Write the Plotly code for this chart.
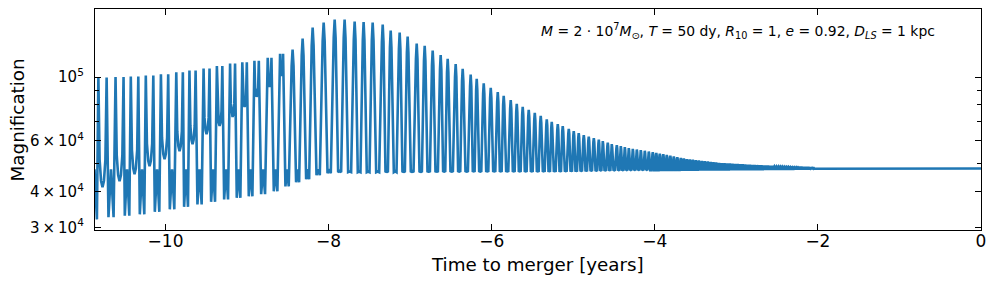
import numpy as np
import plotly.graph_objects as go

# ---------------- data ----------------
# centre of every orbital cycle (years before merger)
cycle_t = [
    -10.969, -10.773, -10.564, -10.380, -10.196, -10.012, -9.828, -9.669, -9.497, -9.337,
    -9.178, -9.031, -8.883, -8.724, -8.577, -8.442, -8.319, -8.196, -8.061, -7.926,
    -7.804, -7.681, -7.571, -7.460, -7.337, -7.239, -7.129, -7.031, -6.920, -6.822,
    -6.724, -6.626, -6.540, -6.442, -6.356, -6.258, -6.184, -6.098, -6.012, -5.926,
    -5.853, -5.767, -5.693, -5.620, -5.546, -5.472, -5.399, -5.325, -5.264, -5.190,
    -5.129, -5.055, -4.994, -4.933, -4.871, -4.810, -4.748, -4.687, -4.638, -4.577,
    -4.528, -4.466, -4.417, -4.368, -4.319, -4.270, -4.221, -4.172, -4.123, -4.074,
    -4.025, -3.982, -3.939, -3.896, -3.853, -3.810, -3.767, -3.724, -3.681, -3.644,
    -3.607, -3.571, -3.534, -3.497, -3.460, -3.423, -3.387, -3.350, -3.315, -3.281,
    -3.247, -3.212, -3.178, -3.145, -3.112, -3.080, -3.048, -3.016, -2.984, -2.953,
    -2.923, -2.892, -2.863, -2.833, -2.804, -2.775, -2.747, -2.719, -2.692, -2.665,
    -2.638, -2.611, -2.584, -2.558, -2.533, -2.507, -2.481, -2.456, -2.432, -2.407,
    -2.383, -2.360, -2.336, -2.313, -2.290, -2.266, -2.244, -2.222, -2.200, -2.178,
    -2.156, -2.135, -2.114, -2.093, -2.072, -2.052, -2.031, -2.010, -1.990, -1.971,
    -1.951,
]

# upper envelope (peak magnification)
peak_t = [-10.847, -10.442, -10.074, -9.865, -9.521, -9.190, -8.883, -8.724, -8.577, -8.442,
          -8.319, -8.196, -8.061, -7.926, -7.804, -7.681, -7.460, -7.337, -7.239, -7.129,
          -7.031, -6.920, -6.822, -6.724, -6.540, -6.356, -6.184, -6.012, -5.853, -5.693,
          -5.546, -5.399, -5.264, -5.129, -4.994, -4.871, -4.748, -4.638, -4.528, -4.417,
          -4.319, -4.025, -3.607, -3.202, -2.798, -2.380, -1.975]
peak_m = [99440, 100230, 101850, 103510, 106900, 111300, 114000, 116800, 120600, 124600,
          136100, 148700, 154800, 158600, 158600, 156100, 154800, 152300, 145100, 142800,
          138300, 130700, 128600, 123600, 115800, 106900, 98650, 91750, 86060, 80680,
          76890, 73270, 69820, 67600, 64930, 62870, 61370, 59910, 58480, 57540,
          56630, 54830, 51840, 50200, 49390, 48720, 48220]

# local minimum between the two peaks of a cycle (U-shaped dip / notch)
notch_t = [-10.773, -10.564, -10.380, -10.196, -10.012, -9.828, -9.669, -9.497, -9.337,
           -9.178, -9.031, -8.883, -8.724, -8.577, -8.442]
notch_m = [41390, 43430, 45940, 48990, 51840, 55280, 58480, 63390, 67600,
           72680, 78760, 85370, 92510, 101040, 124600]

# deep minima between cycles
trough_t = [-10.847, -10.687, -10.294, -9.926, -9.583, -9.252, -8.957, -8.810, -8.650, -8.503,
            -8.380, -8.258, -8.135, -7.988, -7.865, -5.166, -4.429, -3.448, -2.221, -1.730]
trough_m = [32000, 32520, 33310, 34670, 36100, 37580, 38500, 39130, 40090, 41730,
            43090, 44140, 45580, 46320, 46700, 46800, 47300, 47700, 48000, 48100]

# small bump between the two deep minima
bump_t = [-10.9, -7.988, -7.804, -1.730]
bump_m = [47800, 47800, 46900, 48100]

# separation of the two peaks of a cycle (fraction of the cycle)
sep_t = [-10.773, -10.196, -9.583, -9.190, -8.883, -8.724, -8.577, -8.503, -8.442]
sep_f = [0.50, 0.50, 0.45, 0.40, 0.35, 0.30, 0.26, 0.18, 0.0]

# flat tail up to merger
tail_t = [-1.90, -1.00, 0.0]
tail_m = [48100, 48100, 48100]

x_ticks = [-10, -8, -6, -4, -2, 0]
x_ticktext = ["\u221210", "\u22128", "\u22126", "\u22124", "\u22122", "0"]
y_ticks = [3e4, 4e4, 6e4, 1e5]
y_ticktext = ["3\u2009\u00d7\u200910<sup>4</sup>", "4\u2009\u00d7\u200910<sup>4</sup>",
              "6\u2009\u00d7\u200910<sup>4</sup>", "10<sup>5</sup>"]
y_minor = [5e4, 7e4, 8e4, 9e4]


# ---------------- build the light curve cycle by cycle ----------------
def logi(t, kt, km):
    return 10 ** np.interp(t, kt, np.log10(km))


c = np.array(cycle_t)
P = np.gradient(c)
pk = logi(c, peak_t, peak_m)
nt = logi(c, notch_t, notch_m)
sp = np.interp(c, sep_t, sep_f)

xs, ys = [], []
for k in range(len(c)):
    ck, Pk = c[k], P[k]
    h = sp[k] * Pk / 2
    if h > 1e-6:
        lp, ln = np.log10(pk[k]), np.log10(nt[k])
        pts = [(ck - h, lp), (ck - 0.7 * h, ln + 0.25 * (lp - ln)), (ck - 0.35 * h, ln + 0.06 * (lp - ln)),
               (ck, ln), (ck + 0.35 * h, ln + 0.06 * (lp - ln)), (ck + 0.7 * h, ln + 0.25 * (lp - ln)),
               (ck + h, lp)]
    else:
        lp = np.log10(pk[k])
        lt = np.log10(logi(ck, trough_t, trough_m))
        pts = [(ck - 0.09 * Pk, lt + 0.88 * (lp - lt)), (ck, lp), (ck + 0.09 * Pk, lt + 0.88 * (lp - lt))]
    for px, pl in pts:
        xs.append(px)
        ys.append(10 ** pl)
    if k < len(c) - 1:
        m = 0.5 * (ck + c[k + 1])
        d = 0.15 * (c[k + 1] - ck)
        tr = logi(m, trough_t, trough_m)
        bu = max(logi(m, bump_t, bump_m), tr)
        for px, val in [(m - d, tr), (m, bu), (m + d, tr)]:
            xs.append(px)
            ys.append(val)

xs += tail_t
ys += tail_m

fig = go.Figure()
fig.add_trace(go.Scatter(x=xs, y=ys, mode="lines",
                         line=dict(color="#1f77b4", width=2.6), hoverinfo="skip"))

fig.add_annotation(
    text="<i>M</i> = 2 \u00b7 10<sup>7</sup><i>M</i><sub>\u2299</sub>, <i>T</i> = 50 dy, "
         "<i>R</i><sub>10</sub> = 1, <i>e</i> = 0.92, <i>D</i><sub><i>LS</i></sub> = 1 kpc",
    xref="paper", yref="paper", x=0.9503, y=0.90, xanchor="right", yanchor="middle",
    showarrow=False, font=dict(family="DejaVu Sans", size=13.9, color="black"))

# axis titles
fig.add_annotation(text="Time to merger [years]", xref="paper", yref="paper",
                   x=0.4998, y=-0.158, xanchor="center", yanchor="middle", showarrow=False,
                   font=dict(family="DejaVu Sans", size=18.3, color="black"))
fig.add_annotation(text="Magnification", xref="paper", yref="paper", textangle=-90,
                   x=-0.0870, y=0.5, xanchor="center", yanchor="middle", showarrow=False,
                   font=dict(family="DejaVu Sans", size=18.3, color="black"))

axis_common = dict(showline=True, linecolor="black", linewidth=1.3, mirror="ticks",
                   ticks="inside", tickcolor="black", tickwidth=1.2, showgrid=False,
                   zeroline=False, automargin=False)

fig.update_xaxes(range=[-10.865, 0], tickmode="array", tickvals=x_ticks, ticktext=x_ticktext,
                 ticklen=6, tickfont=dict(size=17), ticklabelstandoff=-5,
                 **axis_common)
fig.update_yaxes(type="log", range=[4.4684, 5.2368], tickmode="array", tickvals=y_ticks,
                 ticktext=y_ticktext, ticklen=6, tickfont=dict(size=15), ticklabelstandoff=7,
                 minor=dict(tickmode="array", tickvals=y_minor, ticks="inside", ticklen=3.5,
                            tickcolor="black", tickwidth=1.0, showgrid=False),
                 **axis_common)

fig.update_layout(width=996, height=283, margin=dict(l=95, r=15, t=9, b=53, pad=0),
                  plot_bgcolor="white", paper_bgcolor="white", showlegend=False,
                  font=dict(family="DejaVu Sans", color="black"))

fig.write_html("out.html", config={"displayModeBar": False},
               post_script="document.body.style.margin='0';")
